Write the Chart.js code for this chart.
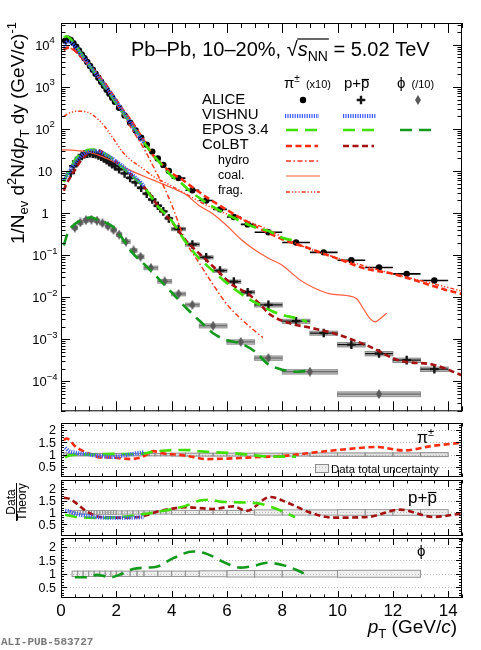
<!DOCTYPE html>
<html>
<head>
<meta charset="utf-8">
<title>Pb-Pb 10-20% spectra</title>
<script src="https://cdn.jsdelivr.net/npm/chart.js@4.4.1/dist/chart.umd.min.js"></script>
<style>
  html, body { margin: 0; padding: 0; background: #fff; }
  #wrap { position: relative; width: 481px; height: 650px; overflow: hidden; background: #fff; }
  #wrap canvas { position: absolute; left: 0; }
</style>
</head>
<body>
<div id="wrap">
  <canvas id="cSpec" width="481" height="418" style="top:0px"></canvas>
  <canvas id="cPi" width="481" height="61" style="top:418px"></canvas>
  <canvas id="cP" width="481" height="58" style="top:479px"></canvas>
  <canvas id="cPhi" width="481" height="113" style="top:537px"></canvas>
  <canvas id="cText" width="481" height="650" style="top:0px; pointer-events:none"></canvas>
</div>
<script>
// ---- ALICE data (pi x10, p, phi /10) ----
const pionPt  = [0.15,0.25,0.35,0.45,0.55,0.65,0.75,0.85,0.95,1.05,1.15,1.25,1.35,1.45,1.55,1.65,1.75,1.85,1.95,
                 2.1,2.3,2.5,2.7,2.9,3.1,3.3,3.5,3.7,3.9,4.25,4.75,5.25,5.75,6.25,6.75,7.5,8.5,9.5,10.5,11.5,12.5,13.5];
const pionVal = [12500,14000,13000,11000,9000,7300,5900,4800,3900,3150,2550,2050,1650,1330,1070,860,690,555,445,
                 320,210,140,92,62,42,29,20,14,10,6.8,3.5,2.0,1.23,0.81,0.54,0.35,0.2,0.117,0.076,0.051,0.036,0.025];
const pionHw  = [0.05,0.05,0.05,0.05,0.05,0.05,0.05,0.05,0.05,0.05,0.05,0.05,0.05,0.05,0.05,0.05,0.05,0.05,0.05,
                 0.1,0.1,0.1,0.1,0.1,0.1,0.1,0.1,0.1,0.1,0.25,0.25,0.25,0.25,0.25,0.25,0.5,0.5,0.5,0.5,0.5,0.5,0.5];
const pionSys = [0.07,0.06,0.05,0.05,0.05,0.05,0.05,0.05,0.05,0.05,0.05,0.05,0.05,0.05,0.05,0.05,0.05,0.05,0.05,
                 0.05,0.05,0.05,0.05,0.05,0.05,0.05,0.05,0.05,0.05,0.06,0.06,0.06,0.06,0.06,0.06,0.06,0.06,0.07,0.07,0.07,0.07,0.08];

const protonPt  = [0.35,0.45,0.55,0.65,0.75,0.85,0.95,1.05,1.15,1.25,1.35,1.45,1.55,1.65,1.75,1.85,1.95,
                   2.1,2.3,2.5,2.7,2.9,3.1,3.3,3.5,3.7,3.9,4.25,4.75,5.25,5.75,6.25,6.75,7.5,8.5,9.5,10.5,11.5,12.5,13.5];
const protonVal = [9,13,17,20.5,23,25,26,26.5,26,25,23.5,22,20,18,16.3,14.5,13,
                   11,8.8,6.9,5.4,4.0,2.9,2.1,1.5,1.1,0.75,0.42,0.18,0.089,0.043,0.0236,0.0132,
                   0.0066,0.0027,0.00141,0.00075,0.00046,0.00032,0.000196];
const protonHw  = [0.05,0.05,0.05,0.05,0.05,0.05,0.05,0.05,0.05,0.05,0.05,0.05,0.05,0.05,0.05,0.05,0.05,
                   0.1,0.1,0.1,0.1,0.1,0.1,0.1,0.1,0.1,0.1,0.25,0.25,0.25,0.25,0.25,0.25,0.5,0.5,0.5,0.5,0.5,0.5,0.5];
const protonSys = [0.08,0.08,0.08,0.08,0.08,0.08,0.08,0.08,0.08,0.08,0.08,0.08,0.08,0.08,0.08,0.08,0.08,
                   0.07,0.07,0.07,0.07,0.07,0.07,0.07,0.07,0.07,0.07,0.09,0.09,0.09,0.09,0.09,0.09,
                   0.11,0.11,0.11,0.12,0.12,0.12,0.12];

const phiPt  = [0.5,0.7,0.9,1.1,1.3,1.5,1.7,1.9,2.1,2.35,2.625,2.875,3.25,3.75,4.25,4.75,5.5,6.5,7.5,9.0,11.5];
const phiVal = [0.45,0.6,0.68,0.70,0.66,0.58,0.49,0.40,0.31,0.21,0.13,0.092,0.05,0.024,0.012,0.0066,
                0.0021,0.00087,0.00036,0.00017,0.00005];
const phiHw  = [0.1,0.1,0.1,0.1,0.1,0.1,0.1,0.1,0.1,0.15,0.125,0.125,0.25,0.25,0.25,0.25,0.5,0.5,0.5,1.0,1.5];
const phiSys = [0.1,0.1,0.1,0.1,0.1,0.1,0.1,0.1,0.1,0.1,0.1,0.1,0.1,0.1,0.1,0.1,0.11,0.12,0.12,0.12,0.13];

// ---- model curves, spectra ----
const vishnuPiPt  = [0.1,0.15,0.25,0.35,0.45,0.55,0.75,0.95,1.25,1.55,1.85,2.1,2.5,2.9,3.0];
const vishnuPiVal = [9000,9770,11670,11400,10000,8400,5670,3820,2110,1150,624,355,143,57,47];
const vishnuPPt   = [0.1,0.2,0.3,0.4,0.5,0.6,0.7,0.8,0.9,1.0,1.1,1.2,1.3,1.4,1.6,1.8,2.0,2.2,2.4,2.6,2.8,3.0];
const vishnuPVal  = [6.0,7.5,9.5,12.5,15.5,19,22,25,27.5,29,30,30,29.5,28.5,25,21,17,13.5,10.5,8.0,6.0,4.4];

const eposPiPt  = [0.1,0.2,0.3,0.4,0.5,0.6,0.8,1.0,1.2,1.4,1.6,1.8,2.0,2.2,2.4,2.6,2.8,3.0,3.3,3.6,4.0,4.3,4.7,5.0,5.5,6.0,6.5,7.0,7.5,8.0,8.5];
const eposPiVal = [15000,16000,14700,12500,10300,8300,5300,3450,2250,1480,960,620,400,260,170,112,75,48,26,15,7.6,5.5,3.2,2.3,1.41,0.93,0.64,0.46,0.376,0.26,0.217];
const eposPPt   = [0.1,0.2,0.3,0.4,0.5,0.6,0.7,0.8,0.9,1.0,1.1,1.2,1.3,1.4,1.6,1.8,2.0,2.3,2.6,3.0,3.5,4.0,4.5,5.0,5.3,5.7,6.2,6.7,7.2,7.6,8.0,8.5,8.9];
const eposPVal  = [5.5,7.5,10.5,14,18,22,25.5,28.5,30.5,32,32.5,32,31,29.5,25.5,21,16.5,11,7.3,4.2,1.45,0.66,0.21,0.083,0.055,0.032,0.017,0.0099,0.0065,0.0048,0.0038,0.0032,0.0026];
const eposPhiPt  = [0.1,0.2,0.3,0.5,0.7,0.9,1.1,1.3,1.5,1.7,1.9,2.2,2.6,3.0,3.5,4.0,4.5,5.0,5.5,6.0,6.5,7.0,7.5,8.0,8.5,9.0];
const eposPhiVal = [0.17,0.28,0.4,0.55,0.67,0.76,0.8,0.7,0.64,0.56,0.46,0.26,0.11,0.062,0.029,0.013,0.0058,0.0028,0.0014,0.00095,0.0008,0.00052,0.000255,0.00019,0.00017,0.00018];

const colbtPiPt  = [0.1,0.2,0.3,0.4,0.5,0.6,0.75,1.0,1.2,1.4,1.7,2.0,2.3,2.5,2.8,3.0,3.3,3.6,4.0,4.3,4.8,5.3,6.0,7.0,8.0,9.0,10.0,11.0,12.0,13.0,14.0,14.5];
const colbtPiVal = [7600,8500,8600,8200,7300,6500,5000,3400,2450,1700,960,480,250,170,85,52,25,15.5,8.8,6.8,3.9,2.3,1.19,0.5,0.24,0.143,0.083,0.048,0.036,0.023,0.0145,0.012];
const colbtPPt   = [0.1,0.2,0.3,0.4,0.5,0.7,0.9,1.1,1.3,1.5,1.8,2.1,2.5,2.8,3.2,3.6,4.0,4.55,5.0,5.5,6.23,6.71,7.2,7.56,8.28,9.0,9.85,11.1,12.26,13.46,14.5];
const colbtPVal  = [3.4,5,6.5,8.6,10.5,17,24,31,32,28,21,14.5,8.7,5.8,2.9,1.2,0.63,0.21,0.11,0.054,0.019,0.0128,0.0068,0.0039,0.0024,0.0019,0.0014,0.0007,0.00031,0.00025,0.00014];

const hydroPt  = [0.1,0.3,0.5,0.75,1.0,1.5,2.0,2.5,3.0,3.5,3.7,4.0,4.5,5.0,5.5,6.0,6.5,7.0,7.3];
const hydroVal = [7400,8400,7100,4800,3200,1250,400,115,34,8,4.5,1.6,0.22,0.065,0.02,0.0068,0.0031,0.0016,0.0011];
const coalPt   = [0.0,0.5,1.0,1.5,2.0,2.5,3.0,3.5,4.0,4.5,5.0,5.5,6.0,6.5,7.0,7.5,8.0,8.6,9.12,9.73,10.33,10.7,10.93,11.18,11.36,11.54,11.78];
const coalVal  = [32,31,28,22,15.5,10.5,7.5,5.5,4.0,2.8,1.5,0.95,0.5,0.24,0.135,0.085,0.058,0.027,0.017,0.012,0.011,0.0091,0.0054,0.0031,0.0026,0.0031,0.0042];
const fragPt   = [0.1,0.3,0.6,1.0,1.3,1.6,1.9,2.2,2.5,3.0,3.4,3.7,4.0,4.5,5.0,5.5,6.0,6.5,7.0,7.5,8.0,9.0,10.0,11.0,12.0,13.0,14.0,14.5];
const fragVal  = [200,240,265,245,180,110,58,30,19,11,7,5.6,4.4,2.9,1.9,1.3,0.95,0.72,0.55,0.4,0.27,0.14,0.085,0.055,0.036,0.025,0.017,0.014];

// ---- Data / Theory ----
const rVishnuPiPt  = [0.15,0.3,0.5,0.7,0.9,1.2,1.5,1.85,2.2,2.6,3.0];
const rVishnuPiVal = [1.28,1.14,1.08,1.05,1.03,0.97,0.93,0.9,0.95,1.03,1.1];
const rEposPiPt    = [0.15,0.3,0.6,1.0,1.5,2.0,2.5,3.0,3.4,3.8,4.3,4.7,5.0,5.5,6.2,6.8,7.4,8.0,8.5];
const rEposPiVal   = [0.89,0.97,1.0,1.0,1.02,1.03,1.02,1.05,1.13,1.17,1.19,1.18,1.14,1.1,1.06,1.0,0.93,0.92,0.92];
const rColbtPiPt   = [0.1,0.2,0.3,0.5,0.75,1.05,1.4,1.8,2.1,2.5,2.8,3.04,3.34,3.7,4.3,4.8,5.27,6.0,6.95,8.16,9.25,10.3,11.4,12.4,13.4,14.5];
const rColbtPiVal  = [1.6,1.65,1.6,1.35,1.17,1.03,0.89,0.88,0.86,0.82,0.86,0.96,1.14,1.05,0.99,0.9,0.82,0.84,0.89,0.96,1.1,1.22,1.31,1.17,1.35,1.48];

const rVishnuPPt   = [0.15,0.3,0.5,0.7,1.0,1.3,1.7,2.1,2.5,3.0];
const rVishnuPVal  = [1.07,1.05,0.95,0.9,0.85,0.8,0.78,0.78,0.78,0.8];
const rEposPPt     = [0.15,0.5,1.0,1.5,2.0,2.5,3.0,3.5,4.06,4.5,5.03,5.39,5.8,6.23,6.7,7.2,7.8,8.2,8.46];
const rEposPVal    = [0.9,0.82,0.78,0.77,0.8,0.85,0.93,1.03,1.15,1.28,1.51,1.54,1.45,1.44,1.42,1.37,1.15,0.95,0.8];
const rColbtPPt    = [0.1,0.3,0.5,0.9,1.4,2.1,2.8,3.6,4.55,5.5,6.23,6.71,7.56,8.28,9.0,9.85,11.1,12.26,13.46,14.5];
const rColbtPVal   = [1.63,1.58,1.44,1.07,0.81,0.78,0.81,1.07,1.22,1.15,1.26,1.07,1.66,1.37,1.0,0.78,0.81,1.12,0.81,0.96];

const rEposPhiPt   = [0.5,0.95,1.3,1.78,2.2,2.6,3.1,3.46,4.06,4.78,5.27,6.0,6.47,7.0,7.44,8.04,8.5,9.0];
const rEposPhiVal  = [0.87,0.87,0.96,0.87,1.0,1.18,1.23,1.26,1.58,1.83,1.74,1.38,1.23,1.3,1.41,1.32,1.15,0.9];

// ---- ticks ----
const xMajorTicks = [0,2,4,6,8,10,12,14];
const xMinorTicks = [0.5,1,1.5,2.5,3,3.5,4.5,5,5.5,6.5,7,7.5,8.5,9,9.5,10.5,11,11.5,12.5,13,13.5,14.5];
const xTickLabels = ['0','2','4','6','8','10','12','14'];
const logTicks    = [1e-4,1e-3,1e-2,1e-1,1,10,1e2,1e3,1e4];
const logTickBase = ['10','10','10','10','1','10','10','10','10'];
const logTickExp  = ['\u22124','\u22123','\u22122','\u22121','','','2','3','4'];
const ratioTicks  = [0.5,1,1.5,2];
const ratioTickLabels = ['0.5','1','1.5','2'];
const ratioMinor  = [0.2,0.3,0.4,0.6,0.7,0.8,0.9,1.1,1.2,1.3,1.4,1.6,1.7,1.8,1.9,2.1,2.2,2.3];
const logMinor = [];
for (let e = -5; e <= 4; e++) for (let m = 2; m <= 9; m++) logMinor.push(m * Math.pow(10, e));

// ---- styles ----
const F = '"Liberation Sans", Arial, Helvetica, sans-serif';
const PHI = '\u03D5';
const ST = {
  vishnu:  { c: '#3d5bff', w: 4,   d: [1.2, 1.2] },
  epos:    { c: '#3fe000', w: 2.6, d: [12, 7] },
  eposPhi: { c: '#139a1c', w: 2.6, d: [12, 7] },
  colbtPi: { c: '#ff2b0f', w: 2.6, d: [6, 3.5] },
  colbtP:  { c: '#a51212', w: 2.6, d: [6, 3.5] },
  hydro:   { c: '#ff3a1e', w: 1.5, d: [5, 2.5, 1.5, 2.5] },
  coal:    { c: '#ff5a3c', w: 1.2, d: [] },
  frag:    { c: '#ff3a1e', w: 1.5, d: [4, 2, 1.2, 2, 1.2, 2, 1.2, 2] }
};

function pts(xs, ys) { return xs.map((x, i) => ({ x: x, y: ys[i] })); }

function curve(xs, ys, s) {
  return {
    data: pts(xs, ys), borderColor: s.c, borderWidth: s.w, borderDash: s.d,
    pointRadius: 0, fill: false, cubicInterpolationMode: 'monotone', order: 0
  };
}

function diamondImg(w, h, fill) {
  const c = document.createElement('canvas');
  c.width = w; c.height = h;
  const g = c.getContext('2d');
  g.fillStyle = fill;
  g.beginPath(); g.moveTo(w / 2, 0); g.lineTo(w, h / 2); g.lineTo(w / 2, h); g.lineTo(0, h / 2); g.closePath();
  g.fill();
  return c;
}
const phiMarker = diamondImg(6, 10, '#5a5a5a');

function drawBoxes(ctx, x, y, pt, val, hw, sys, fill, stroke) {
  ctx.lineWidth = 1;
  pt.forEach((p, i) => {
    const c = val ? val[i] : 1;
    const x0 = x.getPixelForValue(p - hw[i]), x1 = x.getPixelForValue(p + hw[i]);
    const y0 = y.getPixelForValue(val ? c * (1 + sys[i]) : 1 + sys[i]);
    const y1 = y.getPixelForValue(val ? c * (1 - sys[i]) : 1 - sys[i]);
    ctx.fillStyle = fill; ctx.fillRect(x0, y0, x1 - x0, y1 - y0);
    ctx.strokeStyle = stroke; ctx.strokeRect(x0, y0, x1 - x0, y1 - y0);
  });
}

function drawHBars(ctx, x, y, pt, val, hw, color, lw) {
  ctx.strokeStyle = color; ctx.lineWidth = lw;
  ctx.beginPath();
  pt.forEach((p, i) => {
    const py = y.getPixelForValue(val[i]);
    ctx.moveTo(x.getPixelForValue(p - hw[i]), py);
    ctx.lineTo(x.getPixelForValue(p + hw[i]), py);
  });
  ctx.stroke();
}

// ROOT-like frame: inward ticks on all four sides, labels drawn by hand
function framePlugin(cfg) {
  return {
    id: 'frame',
    beforeDatasetsDraw(chart) {
      const { ctx, chartArea: a, scales: { x, y } } = chart;
      ctx.save();
      ctx.beginPath(); ctx.rect(a.left, a.top, a.right - a.left, a.bottom - a.top); ctx.clip();
      if (cfg.gridY) {
        ctx.strokeStyle = '#b8b8b8'; ctx.lineWidth = 1; ctx.setLineDash([1, 2]);
        cfg.gridY.forEach(v => {
          const py = Math.round(y.getPixelForValue(v)) + 0.5;
          ctx.beginPath(); ctx.moveTo(a.left, py); ctx.lineTo(a.right, py); ctx.stroke();
        });
        ctx.setLineDash([]);
      }
      if (cfg.under) cfg.under(ctx, x, y);
      ctx.restore();
    },
    afterDraw(chart) {
      const { ctx, chartArea: a, scales: { x, y } } = chart;
      ctx.save();
      ctx.strokeStyle = '#000'; ctx.lineWidth = 1;
      ctx.beginPath();
      const tx = (v, len) => {
        const px = Math.round(x.getPixelForValue(v)) + 0.5;
        ctx.moveTo(px, a.bottom); ctx.lineTo(px, a.bottom - len);
        ctx.moveTo(px, a.top); ctx.lineTo(px, a.top + len);
      };
      const ty = (v, len) => {
        if (v < y.min || v > y.max) return;
        const py = Math.round(y.getPixelForValue(v)) + 0.5;
        ctx.moveTo(a.left, py); ctx.lineTo(a.left + len, py);
        ctx.moveTo(a.right, py); ctx.lineTo(a.right - len, py);
      };
      xMajorTicks.forEach(v => tx(v, cfg.xMaj));
      xMinorTicks.forEach(v => tx(v, cfg.xMin));
      cfg.yMajor.forEach(v => ty(v, cfg.yMaj));
      cfg.yMinor.forEach(v => ty(v, cfg.yMin));
      ctx.stroke();
      ctx.strokeRect(a.left + 0.5, a.top + 0.5, a.right - a.left - 1, a.bottom - a.top - 1);

      ctx.fillStyle = '#000';
      if (cfg.logLabels) {
        logTicks.forEach((v, i) => {
          const py = y.getPixelForValue(v);
          ctx.font = '13px ' + F; const wb = ctx.measureText(logTickBase[i]).width;
          ctx.font = '9.5px ' + F; const we = logTickExp[i] ? ctx.measureText(logTickExp[i]).width : 0;
          const x0 = 45 - (wb + we) / 2;
          ctx.font = '13px ' + F; ctx.textAlign = 'left';
          ctx.fillText(logTickBase[i], x0, py + 4.7);
          if (we) { ctx.font = '9.5px ' + F; ctx.fillText(logTickExp[i], x0 + wb, py - 1.5); }
        });
      }
      if (cfg.ratioLabels) {
        ctx.font = '12.5px ' + F; ctx.textAlign = 'right';
        ratioTicks.forEach((v, i) => ctx.fillText(ratioTickLabels[i], 56, y.getPixelForValue(v) + 4.5));
      }
      if (cfg.xLabels) {
        ctx.font = '17px ' + F; ctx.textAlign = 'center';
        xMajorTicks.forEach((v, i) => ctx.fillText(xTickLabels[i], x.getPixelForValue(v), a.bottom + 18));
      }
      ctx.restore();
    }
  };
}

function makeChart(id, pad, yScale, datasets, cfg) {
  return new Chart(document.getElementById(id), {
    type: 'line',
    data: { datasets: datasets },
    options: {
      responsive: false, animation: false, events: [],
      layout: { padding: pad },
      plugins: { legend: { display: false }, tooltip: { enabled: false } },
      scales: {
        x: { type: 'linear', min: 0, max: 14.5, display: false },
        y: Object.assign({ display: false }, yScale)
      }
    },
    plugins: [framePlugin(cfg)]
  });
}

const side = { left: 61, right: 19 };

// spectra panel
makeChart('cSpec', Object.assign({ top: 23, bottom: 5 }, side),
  { type: 'logarithmic', min: 1.95e-5, max: 3.3e4 },
  [
    curve(vishnuPiPt, vishnuPiVal, ST.vishnu),
    curve(vishnuPPt, vishnuPVal, ST.vishnu),
    curve(eposPiPt, eposPiVal, ST.epos),
    curve(eposPPt, eposPVal, ST.epos),
    curve(eposPhiPt, eposPhiVal, ST.eposPhi),
    curve(colbtPiPt, colbtPiVal, ST.colbtPi),
    curve(colbtPPt, colbtPVal, ST.colbtP),
    curve(hydroPt, hydroVal, ST.hydro),
    curve(coalPt, coalVal, ST.coal),
    curve(fragPt, fragVal, ST.frag),
    { data: pts(pionPt, pionVal), showLine: false, pointStyle: 'circle', pointRadius: 3.2,
      pointBackgroundColor: '#000', pointBorderColor: '#000', pointBorderWidth: 0, order: 1 },
    { data: pts(protonPt, protonVal), showLine: false, pointStyle: 'cross', pointRadius: 4.3,
      pointBorderColor: '#151515', pointBorderWidth: 2.4, order: 1 },
    { data: pts(phiPt, phiVal), showLine: false, pointStyle: phiMarker, pointRadius: 3, order: 1 }
  ],
  {
    xMaj: 10, xMin: 5, yMajor: logTicks, yMinor: logMinor, yMaj: 9, yMin: 4.5, logLabels: true,
    under: (ctx, x, y) => {
      drawBoxes(ctx, x, y, protonPt, protonVal, protonHw, protonSys, '#b2b2b2', '#8e8e8e');
      drawBoxes(ctx, x, y, phiPt, phiVal, phiHw, phiSys, '#b8b8b8', '#959595');
      drawHBars(ctx, x, y, phiPt, phiVal, phiHw, '#555', 1);
      drawHBars(ctx, x, y, protonPt, protonVal, protonHw, '#111', 1.2);
      drawHBars(ctx, x, y, pionPt, pionVal, pionHw, '#000', 1.6);
    }
  });

const ratioCfg = { xMaj: 7, xMin: 3.5, yMajor: ratioTicks, yMinor: ratioMinor, yMaj: 6, yMin: 3,
                   ratioLabels: true, gridY: ratioTicks };

makeChart('cPi', Object.assign({ top: 5, bottom: 2 }, side), { type: 'linear', min: 0.095, max: 2.28 },
  [curve(rVishnuPiPt, rVishnuPiVal, ST.vishnu), curve(rEposPiPt, rEposPiVal, ST.epos), curve(rColbtPiPt, rColbtPiVal, ST.colbtPi)],
  Object.assign({}, ratioCfg, { under: (ctx, x, y) => drawBoxes(ctx, x, y, pionPt, null, pionHw, pionSys, 'rgba(170,170,170,0.35)', '#8a8a8a') }));

makeChart('cP', Object.assign({ top: 1, bottom: 1 }, side), { type: 'linear', min: 0.0, max: 2.38 },
  [curve(rVishnuPPt, rVishnuPVal, ST.vishnu), curve(rEposPPt, rEposPVal, ST.epos), curve(rColbtPPt, rColbtPVal, ST.colbtP)],
  Object.assign({}, ratioCfg, { under: (ctx, x, y) => drawBoxes(ctx, x, y, protonPt, null, protonHw, protonSys, 'rgba(200,200,200,0.3)', '#959595') }));

makeChart('cPhi', Object.assign({ top: 1, bottom: 52 }, side), { type: 'linear', min: 0.1, max: 2.33 },
  [curve(rEposPhiPt, rEposPhiVal, ST.eposPhi)],
  Object.assign({}, ratioCfg, { xLabels: true, under: (ctx, x, y) => drawBoxes(ctx, x, y, phiPt, null, phiHw, phiSys, 'rgba(200,200,200,0.3)', '#959595') }));

// ---- text overlay (titles, legend) ----
const oc = document.getElementById('cText');
const dpr = window.devicePixelRatio || 1;
oc.width = 481 * dpr; oc.height = 650 * dpr;
oc.style.width = '481px'; oc.style.height = '650px';
const g = oc.getContext('2d');
g.scale(dpr, dpr);

function rich(ctx, x, y, segs, align) {
  let w = 0;
  segs.forEach(s => { ctx.font = s.f; s.w = ctx.measureText(s.t).width; w += s.w; });
  let cx = align === 'right' ? x - w : align === 'center' ? x - w / 2 : x;
  ctx.textAlign = 'left';
  segs.forEach(s => {
    ctx.font = s.f; ctx.fillStyle = s.c || '#000';
    s.x = cx;
    ctx.fillText(s.t, cx, y + (s.dy || 0));
    cx += s.w;
  });
  return segs;
}

function seg(ctx, x0, x1, y, s) {
  ctx.save();
  ctx.strokeStyle = s.c; ctx.lineWidth = s.w; ctx.setLineDash(s.d);
  ctx.beginPath(); ctx.moveTo(x0, y); ctx.lineTo(x1, y); ctx.stroke();
  ctx.restore();
}

function hline(ctx, x0, x1, y, w) {
  ctx.save(); ctx.strokeStyle = '#000'; ctx.lineWidth = w || 1;
  ctx.beginPath(); ctx.moveTo(x0, y); ctx.lineTo(x1, y); ctx.stroke(); ctx.restore();
}

// title
const tseg = rich(g, 131, 56, [
  { t: 'Pb\u2013Pb, 10\u201320%, ', f: '20px ' + F },
  { t: '\u221A', f: '20px ' + F },
  { t: 's', f: 'italic 20px ' + F },
  { t: 'NN', f: '14px ' + F, dy: 5 },
  { t: ' = 5.02 TeV', f: '20px ' + F }
]);
hline(g, tseg[1].x + tseg[1].w - 0.5, tseg[3].x + tseg[3].w + 1, 39, 1.2);

// legend headers
rich(g, 284, 88, [{ t: '\u03C0', f: '15px ' + F }, { t: '\u00B1', f: '10px ' + F, dy: -6 }, { t: '  (x10)', f: '11px ' + F }]);
const pp = rich(g, 344, 88, [{ t: 'p+', f: '15px ' + F }, { t: 'p', f: '15px ' + F }]);
hline(g, pp[1].x + 0.5, pp[1].x + pp[1].w - 0.5, 79.5, 1.2);
rich(g, 397, 88, [{ t: PHI, f: '15px ' + F }, { t: '  (/10)', f: '11px ' + F }]);

// legend labels
g.fillStyle = '#000'; g.textAlign = 'left';
g.font = '15px ' + F;
g.fillText('ALICE', 202, 104);
g.fillText('VISHNU', 202, 119);
g.fillText('EPOS 3.4', 202, 134);
g.fillText('CoLBT', 202, 149);
g.font = '12.5px ' + F;
g.fillText('hydro', 218, 164);
g.fillText('coal.', 218, 179);
g.fillText('frag.', 218, 194);

// legend markers
g.fillStyle = '#000';
g.beginPath(); g.arc(303, 100, 3.2, 0, Math.PI * 2); g.fill();
g.save(); g.strokeStyle = '#151515'; g.lineWidth = 2.4; g.beginPath();
g.moveTo(356.7, 100); g.lineTo(365.3, 100); g.moveTo(361, 95.7); g.lineTo(361, 104.3); g.stroke(); g.restore();
g.drawImage(phiMarker, 418 - 3, 100 - 5);

// legend lines
seg(g, 285, 319, 116, ST.vishnu);  seg(g, 343, 376, 116, ST.vishnu);
seg(g, 286, 320, 130, ST.epos);    seg(g, 343, 378, 130, ST.epos);   seg(g, 400, 435, 130, ST.eposPhi);
seg(g, 286, 318, 146, ST.colbtPi); seg(g, 343, 374, 146, ST.colbtP);
seg(g, 286, 320, 161, ST.hydro);
seg(g, 286, 320, 176, ST.coal);
seg(g, 286, 320, 192, ST.frag);

// y axis title (rotated)
g.save();
g.translate(24, 22);
g.rotate(-Math.PI / 2);
rich(g, 0, 0, [
  { t: '1/N', f: '19px ' + F },
  { t: 'ev', f: '13px ' + F, dy: 4 },
  { t: ' d', f: '19px ' + F },
  { t: '2', f: '13px ' + F, dy: -8 },
  { t: 'N/d', f: '19px ' + F },
  { t: 'p', f: 'italic 19px ' + F },
  { t: 'T', f: '13px ' + F, dy: 5 },
  { t: ' dy (GeV/', f: '19px ' + F },
  { t: 'c', f: 'italic 19px ' + F },
  { t: ')', f: '19px ' + F },
  { t: '-1', f: '13px ' + F, dy: -8 }
], 'right');
g.restore();

// Data / Theory
g.save();
g.translate(0, 502);
g.rotate(-Math.PI / 2);
g.fillStyle = '#000'; g.textAlign = 'center'; g.font = '12px ' + F;
g.fillText('Data', 0, 14.5);
g.fillText('Theory', 0, 26);
g.lineWidth = 1; g.beginPath(); g.moveTo(-19, 16.5); g.lineTo(19, 16.5); g.stroke();
g.restore();

// ratio panel labels
rich(g, 417, 443, [{ t: '\u03C0', f: '16px ' + F }, { t: '\u00B1', f: '11px ' + F, dy: -7 }]);
const pp2 = rich(g, 408, 503, [{ t: 'p+', f: '17px ' + F }, { t: 'p', f: '17px ' + F }]);
hline(g, pp2[1].x + 0.5, pp2[1].x + pp2[1].w - 0.5, 492.5, 1.2);
rich(g, 417, 556, [{ t: PHI, f: '15px ' + F }]);

// data uncertainty legend
g.save();
g.fillStyle = 'rgba(200,200,200,0.35)'; g.fillRect(315.5, 464.5, 13, 8);
g.strokeStyle = '#8a8a8a'; g.lineWidth = 1; g.strokeRect(315.5, 464.5, 13, 8);
g.restore();
g.fillStyle = '#000'; g.font = '11.4px ' + F; g.textAlign = 'left';
g.fillText('Data total uncertainty', 331, 472.5);

// x axis title
rich(g, 457, 633, [
  { t: 'p', f: 'italic 19px ' + F },
  { t: 'T', f: '13px ' + F, dy: 5 },
  { t: ' (GeV/', f: '19px ' + F },
  { t: 'c', f: 'italic 19px ' + F },
  { t: ')', f: '19px ' + F }
], 'right');

// figure id
g.fillStyle = '#7a7a7a'; g.font = 'bold 11px "Liberation Mono", "DejaVu Sans Mono", monospace'; g.textAlign = 'left';
g.fillText('ALI-PUB-583727', 1, 645);
</script>
</body>
</html>
